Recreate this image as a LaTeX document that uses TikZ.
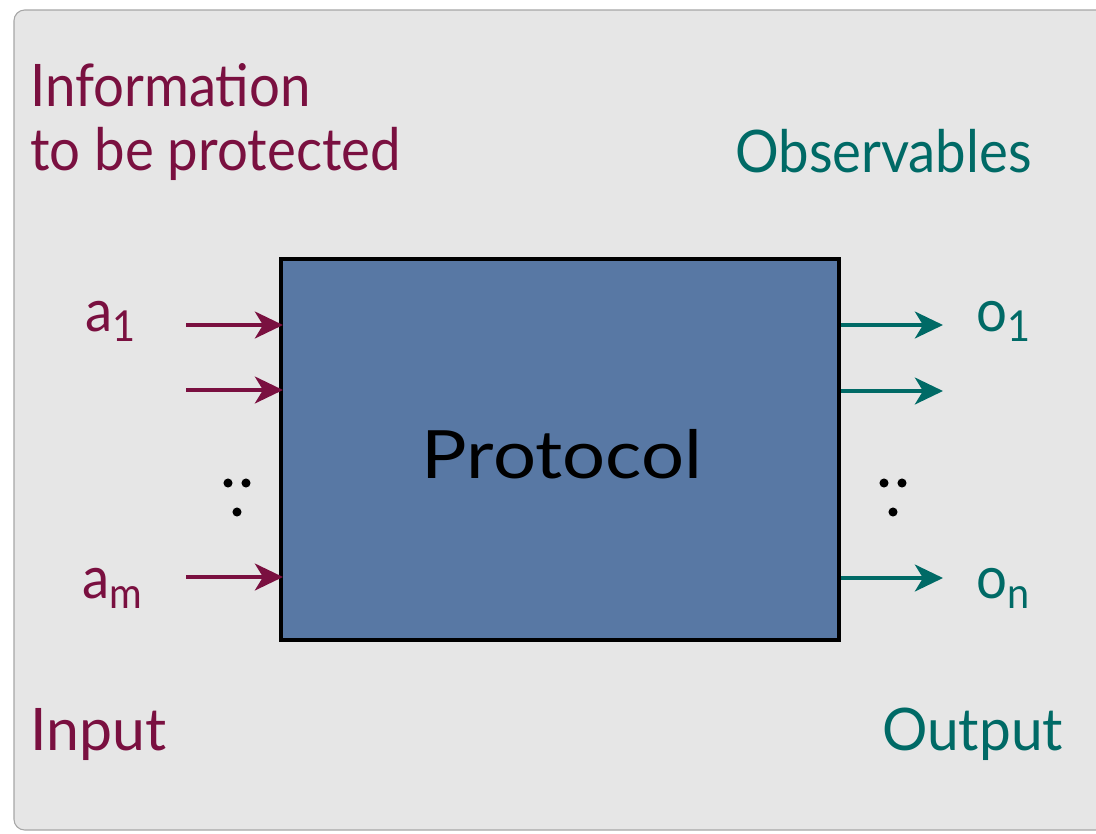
\documentclass[tikz,border=0pt]{standalone}
\usepackage{fontspec}
\setmainfont{Lato}
\usetikzlibrary{arrows.meta}
\definecolor{maroonc}{HTML}{7A1040}
\definecolor{tealc}{HTML}{006A66}
\definecolor{panel}{HTML}{E6E6E6}
\definecolor{boxblue}{HTML}{5878A4}
\newcommand\bigfont{\fontsize{44}{50}\selectfont}
\newcommand\subsc[1]{\raisebox{-0.18em}{\fontsize{32}{32}\selectfont #1}}
\begin{document}
\begin{tikzpicture}[x=0.75pt,y=-0.75pt,
  lbl/.style={anchor=base west, inner sep=0pt, font=\bigfont, xscale=0.93},
  inlbl/.style={lbl, text=maroonc},
  outlbl/.style={lbl, text=tealc},
  inarrow/.style={draw=maroonc, line width=3.4pt, -{Stealth[length=21pt,width=20pt,inset=6pt]}},
  outarrow/.style={draw=tealc, line width=3.4pt, -{Stealth[length=21pt,width=20pt,inset=6pt]}},
  dot/.style={fill=black}]
\useasboundingbox (0,0) rectangle (1096,833);
\fill[white] (0,0) rectangle (1096,833);
\draw[fill=panel, draw=black!35, line width=0.8pt, rounded corners=8pt] (14,10) rectangle (1120,830);

\node[draw=black, line width=3pt, fill=boxblue, minimum width=418.5pt, minimum height=285.75pt,
      inner sep=0pt] (box) at (560,449.5) {};
\node[font=\fontsize{50}{56}\selectfont, xscale=1.14, inner sep=0pt, anchor=base] (proto) at (562,478) {Protocol};

\node[inlbl] (info1) at (30,106) {Information};
\node[inlbl] (info2) at (30,170) {to be protected};
\node[outlbl] (obs) at (735,172) {Observables};
\node[inlbl, xscale=1.08] (inp) at (30,750) {Input};
\node[outlbl, xscale=1.04] (outp) at (882,750) {Output};

\node[inlbl] (a1) at (85,331) {a\subsc{1}};
\node[inlbl] (am) at (82,598) {a\subsc{m}};
\node[outlbl] (o1) at (976,331) {o\subsc{1}};
\node[outlbl] (on) at (976,598) {o\subsc{n}};

\coordinate (i1) at (186,325);
\coordinate (i2) at (186,390);
\coordinate (i3) at (186,577);
\coordinate (o1e) at (943,325);
\coordinate (o2e) at (943,391);
\coordinate (o3e) at (943,578);

\draw[inarrow] (i1) -- ([xshift=3pt]i1 -| box.west);
\draw[inarrow] (i2) -- ([xshift=3pt]i2 -| box.west);
\draw[inarrow] (i3) -- ([xshift=3pt]i3 -| box.west);
\draw[outarrow] (o1e -| box.east) -- (o1e);
\draw[outarrow] (o2e -| box.east) -- (o2e);
\draw[outarrow] (o3e -| box.east) -- (o3e);

\fill[dot] (228,483) circle (3.4pt) (246,483) circle (3.4pt) (237,512) circle (3.4pt);
\fill[dot] (884,483) circle (3.4pt) (902,483) circle (3.4pt) (893,512) circle (3.4pt);
\end{tikzpicture}
\end{document}
